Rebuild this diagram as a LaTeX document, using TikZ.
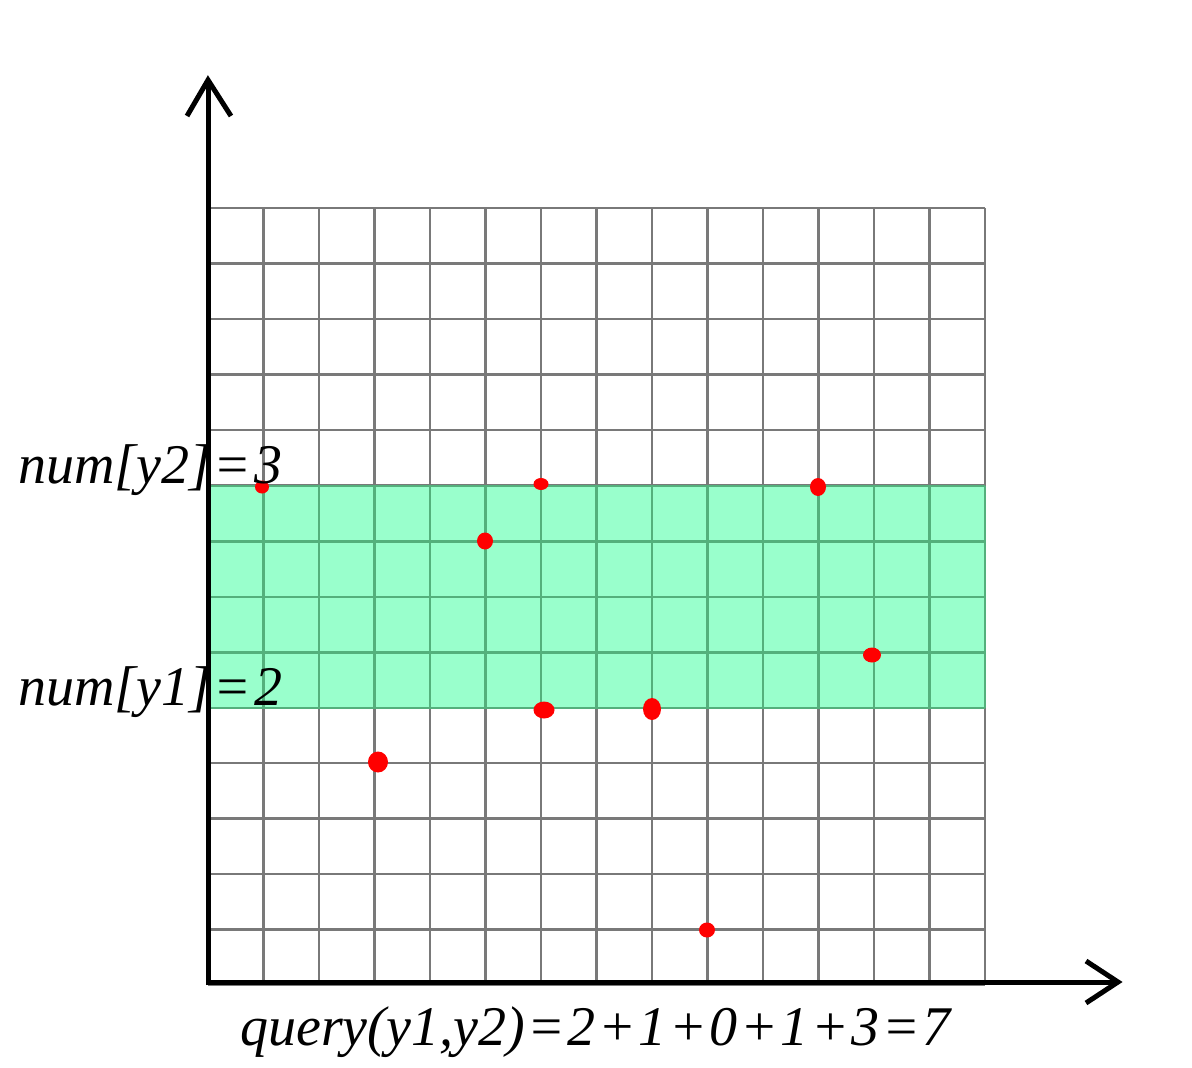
\documentclass[tikz,border=0pt]{standalone}
\usepackage{fontspec}
\setmainfont{Liberation Serif}
\newcommand{\op}[1]{\kern2.6pt#1\kern2.6pt}
\begin{document}
\begin{tikzpicture}[x=1pt,y=-1pt,
  gridline/.style={draw=gray!95!black,line width=2.6pt},
  bandline/.style={draw={rgb,255:red,84;green,176;blue,124},line width=2.6pt},
  axis/.style={draw=black,line width=5pt},
  tip/.style={draw=black,line width=5pt,line cap=butt,line join=miter},
  dot/.style={fill=red,draw=none},
  lab/.style={anchor=base west,inner sep=0pt,font=\fontsize{56}{64}\selectfont\itshape}]
\useasboundingbox (0,0) rectangle (1192,1068);
\fill[white] (0,0) rectangle (1192,1068);
% grid
\foreach \i in {0,...,14}{
  \draw[gridline] (208+\i*55.5,208) -- (208+\i*55.5,985);
  \draw[gridline] (208,208+\i*55.5) -- (985,208+\i*55.5);
}
% band
\fill[fill={rgb,255:red,153;green,255;blue,204}] (208,486) rectangle (985,708);
\foreach \i in {0,...,14}{
  \draw[bandline] (208+\i*55.5,486) -- (208+\i*55.5,708);
}
\foreach \j in {0,...,4}{
  \draw[bandline] (208,486+\j*55.5) -- (985,486+\j*55.5);
}
% axes
\coordinate (o) at (208,982);
\coordinate (ytop) at (208,80);
\coordinate (xend) at (1118,982);
\draw[axis] (208,985) -- (ytop);
\draw[axis] (o) -- (xend);
\draw[tip] (187,116) -- (ytop) -- (231,116);
\draw[tip] (1086,961) -- (xend) -- (1086,1003);
% dots
\fill[dot] (262,487) ellipse (7pt and 6.5pt);
\fill[dot] (541,484) ellipse (7.5pt and 6pt);
\fill[dot] (818,487) ellipse (8pt and 9pt);
\fill[dot] (485,541) ellipse (8pt and 8.5pt);
\fill[dot] (872,655) ellipse (9pt and 7.5pt);
\fill[dot] (544,710) ellipse (10.5pt and 8.5pt);
\fill[dot] (652,709) ellipse (9pt and 11pt);
\fill[dot] (378,762) ellipse (10pt and 10.5pt);
\fill[dot] (707,930) ellipse (8pt and 7.5pt);
% labels
\node[lab] (l2) at (18,483) {num[y2]\op{=}3};
\node[lab] (l1) at (18,705) {num[y1]\op{=}2};
\node[lab] (q) at (240,1045) {query(y1,y2)\op{=}2\op{+}1\op{+}0\op{+}1\op{+}3\op{=}7};
\end{tikzpicture}
\end{document}
